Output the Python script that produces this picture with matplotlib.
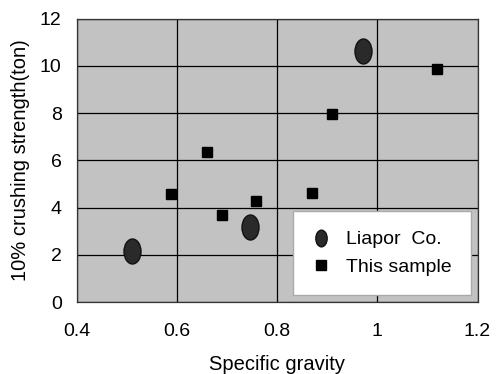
import matplotlib
matplotlib.use("Agg")
import matplotlib.pyplot as plt
from matplotlib.path import Path
from matplotlib.transforms import Affine2D

# Liapor Co. data points
liapor_sg = [0.51, 0.746, 0.971]
liapor_str = [2.15, 3.18, 10.64]

# This sample data points
sample_sg = [0.588, 0.659, 0.689, 0.758, 0.869, 0.909, 1.12]
sample_str = [4.58, 6.37, 3.69, 4.28, 4.6, 7.97, 9.86]

xticks = [0.4, 0.6, 0.8, 1.0, 1.2]
xtick_labels = ["0.4", "0.6", "0.8", "1", "1.2"]
yticks = [0, 2, 4, 6, 8, 10, 12]

plt.rcParams["font.family"] = ["Liberation Sans", "DejaVu Sans"]

# tall ellipse marker like the scanned original
ellipse = Path.unit_circle().transformed(Affine2D().scale(0.68, 1.0))

fig = plt.figure(figsize=(5, 3.74), dpi=100)
ax = fig.add_axes([0.154, 0.1925, 0.801, 0.758])
ax.set_facecolor("#c2c2c2")

ax.plot(liapor_sg, liapor_str, linestyle="none", marker=ellipse, markersize=18,
        color="#2a2a2a", markeredgecolor="#111111", label="Liapor  Co.", zorder=3)
ax.plot(sample_sg, sample_str, linestyle="none", marker="s", markersize=6.5,
        color="black", label="This sample", zorder=3)

ax.set_xlim(0.4, 1.2)
ax.set_ylim(0, 12)
ax.set_xticks(xticks)
ax.set_xticklabels(xtick_labels)
ax.set_yticks(yticks)
ax.grid(True, color="black", linewidth=0.9)
ax.set_axisbelow(True)
ax.tick_params(length=0, labelsize=14)
ax.tick_params(axis="x", pad=15)
ax.tick_params(axis="y", pad=11)
for s in ax.spines.values():
    s.set_color("#333333")
    s.set_linewidth(0.9)

ax.set_xlabel("Specific gravity", fontsize=14.5, labelpad=11)
ax.set_ylabel("10% crushing strength(ton)", fontsize=14.5, labelpad=7)

leg = ax.legend(loc="lower right", fontsize=14, frameon=True, fancybox=False,
                borderpad=1.0, labelspacing=0.5,
                handletextpad=0.8, handlelength=0.9, borderaxespad=0.35)
leg.legend_handles[0].set_markersize(12)
leg.legend_handles[1].set_markersize(6.5)
leg.get_frame().set_facecolor("white")
leg.get_frame().set_edgecolor("#aaaaaa")
leg.get_frame().set_alpha(1.0)

fig.savefig("out.png", dpi=100)
